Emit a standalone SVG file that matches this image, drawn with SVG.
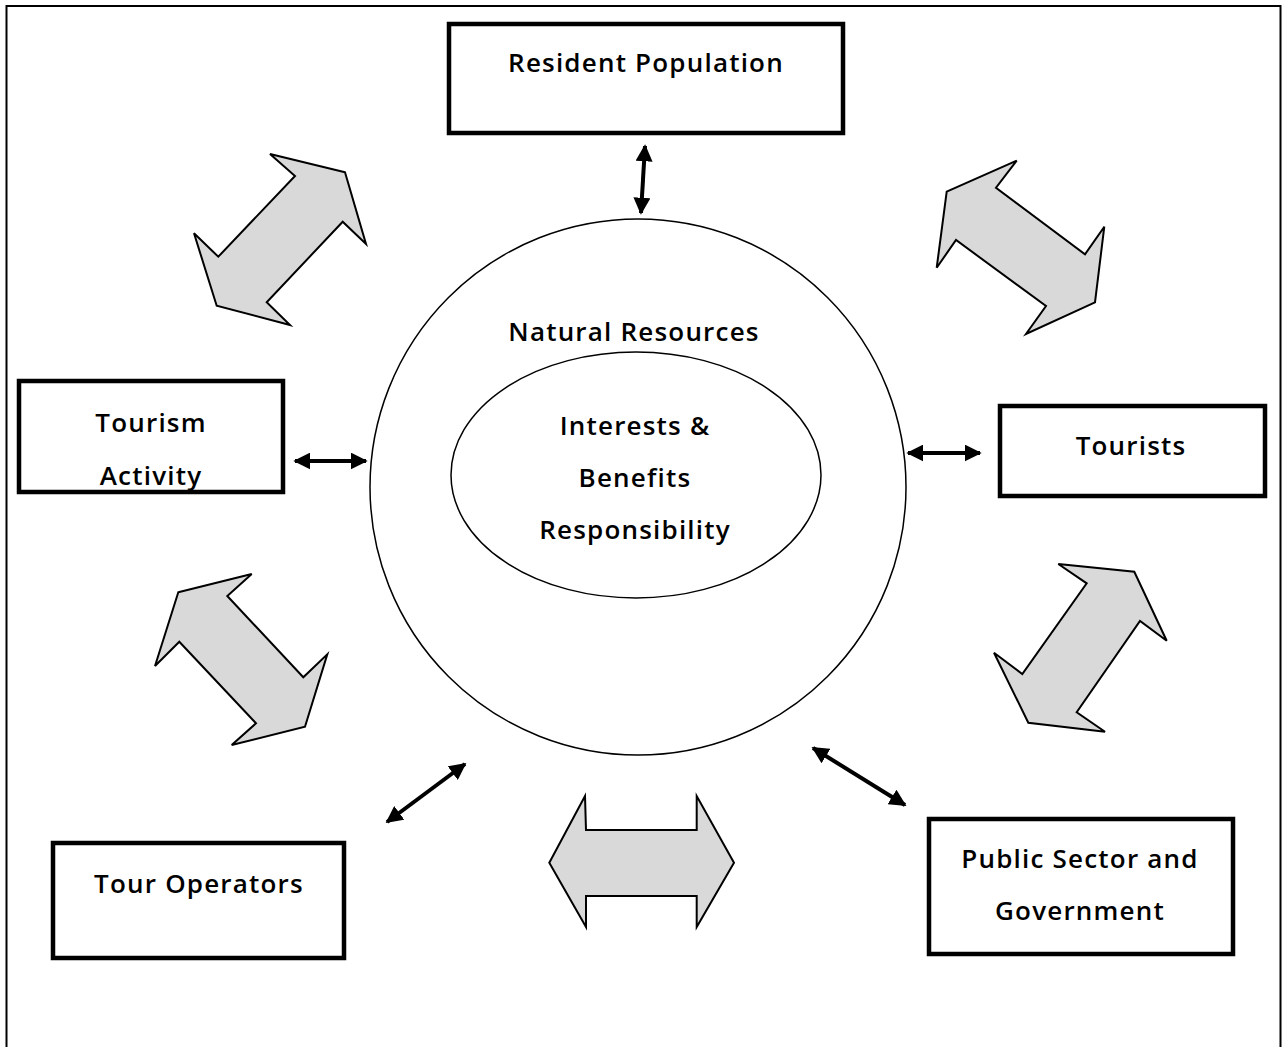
<svg xmlns="http://www.w3.org/2000/svg" width="1282" height="1047" viewBox="0 0 1282 1047">
<defs>
<style>
.box{fill:#fff;stroke:#000;stroke-width:4.5}
.blk{fill:#d9d9d9;stroke:#000;stroke-width:2;stroke-linejoin:miter}
.lbl{font-family:"Open Sans","Noto Sans",sans-serif;font-size:26px;font-weight:600;letter-spacing:1.2px;fill:#000;text-anchor:middle}
.con{stroke:#000;stroke-width:4;fill:none}
</style>
<marker id="ah" viewBox="0 0 10 10" refX="9" refY="5" markerWidth="17" markerHeight="17" markerUnits="userSpaceOnUse" orient="auto-start-reverse">
<path d="M0,0 L10,5 L0,10 Z" fill="#000"/>
</marker>
</defs>
<rect width="1282" height="1047" fill="#fff"/>
<rect x="6.5" y="6" width="1274" height="1060" fill="none" stroke="#000" stroke-width="2"/>

<g id="circle-node">
<circle cx="638" cy="487" r="268" fill="#fff" stroke="#000" stroke-width="1.5"/>
<text class="lbl" x="634" y="341">Natural Resources</text>
</g>
<g id="ellipse-node">
<ellipse cx="636" cy="475" rx="185" ry="123" fill="#fff" stroke="#000" stroke-width="1.5"/>
<text class="lbl" x="635" y="435">Interests &amp;</text>
<text class="lbl" x="635" y="487">Benefits</text>
<text class="lbl" x="635" y="539">Responsibility</text>
</g>

<g id="resident">
<rect class="box" x="449" y="24" width="394" height="109"/>
<text class="lbl" x="646" y="72">Resident Population</text>
</g>
<g id="tourism-activity">
<rect class="box" x="19" y="381" width="264" height="111"/>
<text class="lbl" x="151" y="432">Tourism</text>
<text class="lbl" x="151" y="485">Activity</text>
</g>
<g id="tourists">
<rect class="box" x="1000" y="406" width="265" height="90"/>
<text class="lbl" x="1131" y="455">Tourists</text>
</g>
<g id="tour-operators">
<rect class="box" x="53" y="843" width="291" height="115"/>
<text class="lbl" x="199" y="893">Tour Operators</text>
</g>
<g id="public-sector">
<rect class="box" x="929" y="819" width="304" height="135"/>
<text class="lbl" x="1080" y="868">Public Sector and</text>
<text class="lbl" x="1080" y="920">Government</text>
</g>

<g id="block-arrows">
<polygon class="blk" points="345,172.3 270,154 295,176 218.3,256.7 194,233.3 216.7,305.7 290,325 266.7,302.3 342.7,221.7 366,244"/>
<polygon class="blk" points="946.7,191.7 1016.7,160.7 996,187.7 1085,254.3 1104.3,226.7 1095,302.3 1026,334 1046,306 956,240 936.7,267.7"/>
<polygon class="blk" points="178.3,592.3 251.7,574 227.3,596 303.3,677.3 327.3,654.3 305,726.7 231.7,745 256,723.3 179.3,641.7 155,666"/>
<polygon class="blk" points="1058.3,564 1134.3,571.7 1166.7,640.7 1140,621 1076.7,712.3 1105,731.7 1028.3,722.7 994,652.7 1022.3,674 1086.7,583.3"/>
<polygon class="blk" points="549.3,862.7 585,796 586,830 696.7,830 696.7,796 734,862.7 696.7,927 696.7,896 586,896 586,927"/>
</g>

<g id="connectors">
<line class="con" x1="645" y1="146" x2="641" y2="213" marker-start="url(#ah)" marker-end="url(#ah)"/>
<line class="con" x1="295" y1="461" x2="366" y2="461" marker-start="url(#ah)" marker-end="url(#ah)"/>
<line class="con" x1="908" y1="453" x2="980" y2="453" marker-start="url(#ah)" marker-end="url(#ah)"/>
<line class="con" x1="387" y1="822" x2="465" y2="764" marker-start="url(#ah)" marker-end="url(#ah)"/>
<line class="con" x1="813" y1="748" x2="905" y2="805" marker-start="url(#ah)" marker-end="url(#ah)"/>
</g>
</svg>
